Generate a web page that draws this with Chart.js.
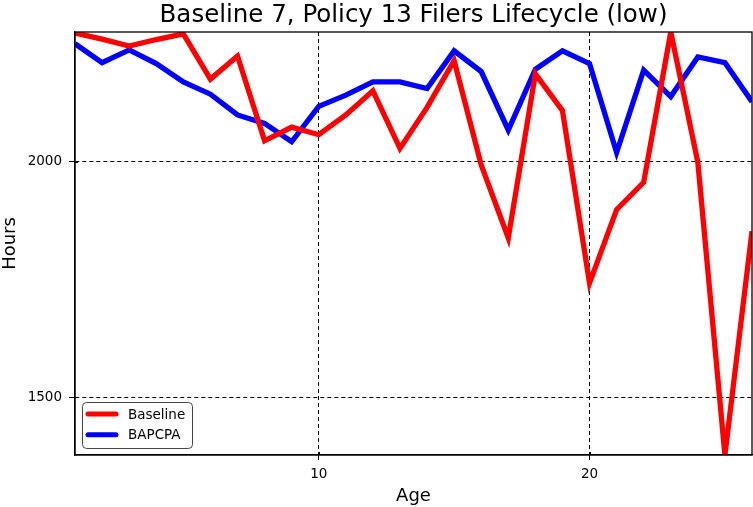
<!DOCTYPE html>
<html>
<head>
<meta charset="utf-8">
<script src="https://cdn.jsdelivr.net/npm/chart.js@4/dist/chart.umd.min.js"></script>
<style>
html,body{margin:0;padding:0;background:#fff;}
#wrap{width:753px;height:507px;}
</style>
</head>
<body>
<div id="wrap"><canvas id="c" width="753" height="507"></canvas></div>
<script>
const chartTitle = "Baseline 7, Policy 13 Filers Lifecycle (low)";
const ages = [1,2,3,4,5,6,7,8,9,10,11,12,13,14,15,16,17,18,19,20,21,22,23,24,25,26];
const baseline = [2273,2260,2245,2259,2271,2175,2224,2044,2073,2057,2099,2150,2028,2115,2214,1993,1838,2186,2108,1742,1898,1956,2275,1998,1377,1852];
const bapcpa = [2250,2210,2237,2208,2169,2143,2099,2081,2042,2117,2141,2169,2169,2155,2235,2191,2067,2196,2235,2208,2019,2194,2138,2222,2210,2127];
const xTicks = [10,20];
const yTicks = [1500,2000];
const xLabel = "Age";
const yLabel = "Hours";
const FONT = "'DejaVu Sans', sans-serif";

const framePlugin = {
  id: 'frame',
  afterDraw(chart) {
    const ctx = chart.ctx, a = chart.chartArea;
    ctx.save();
    ctx.strokeStyle = '#000';
    ctx.lineWidth = 1.3;
    ctx.strokeRect(a.left, a.top, a.right - a.left, a.bottom - a.top);
    // tick marks crossing the axis line
    ctx.lineWidth = 1;
    chart.scales.x.ticks.forEach(t => {
      const px = Math.round(chart.scales.x.getPixelForValue(t.value)) + 0.5;
      ctx.beginPath(); ctx.moveTo(px, a.bottom - 3); ctx.lineTo(px, a.bottom); ctx.stroke();
    });
    chart.scales.y.ticks.forEach(t => {
      const py = Math.round(chart.scales.y.getPixelForValue(t.value)) + 0.5;
      ctx.beginPath(); ctx.moveTo(a.left, py); ctx.lineTo(a.left + 3, py); ctx.stroke();
    });
    // title
    ctx.fillStyle = '#000';
    ctx.font = '24.5px ' + FONT;
    ctx.textAlign = 'center';
    ctx.textBaseline = 'alphabetic';
    ctx.fillText(chartTitle, (a.left + a.right) / 2, 22);
    // legend
    const lx = 82, ly = 402, lw = 110, lh = 46, r = 4;
    ctx.beginPath();
    ctx.roundRect(lx + 0.5, ly + 0.5, lw, lh, r);
    ctx.fillStyle = 'rgba(255,255,255,0.8)';
    ctx.fill();
    ctx.strokeStyle = '#444';
    ctx.lineWidth = 1;
    ctx.stroke();
    ctx.font = '13.5px ' + FONT;
    ctx.textAlign = 'left';
    ctx.textBaseline = 'middle';
    chart.data.datasets.forEach((ds, i) => {
      const yy = 414 + i * 20.7;
      ctx.beginPath();
      ctx.moveTo(88, yy);
      ctx.lineTo(116, yy);
      ctx.strokeStyle = ds.borderColor;
      ctx.lineWidth = 5;
      ctx.lineCap = 'round';
      ctx.stroke();
      ctx.fillStyle = '#000';
      ctx.fillText(ds.label, 128, yy + 1);
    });
    ctx.restore();
  }
};

new Chart(document.getElementById('c'), {
  type: 'line',
  data: {
    datasets: [
      { label: 'Baseline', data: ages.map((a, i) => ({x: a, y: baseline[i]})), borderColor: '#ff0000', borderWidth: 5.3, pointRadius: 0, tension: 0, clip: 0 },
      { label: 'BAPCPA', data: ages.map((a, i) => ({x: a, y: bapcpa[i]})), borderColor: '#0000ff', borderWidth: 5.3, pointRadius: 0, tension: 0, clip: 0 }
    ]
  },
  options: {
    responsive: false,
    animation: false,
    devicePixelRatio: 1,
    layout: { padding: { top: 32, right: 1, left: 0, bottom: 0 } },
    plugins: { legend: { display: false }, title: { display: false }, tooltip: { enabled: false } },
    scales: {
      x: {
        type: 'linear', min: 1, max: 26,
        afterBuildTicks: s => { s.ticks = xTicks.map(v => ({value: v})); },
        afterFit: s => { s.height = 52; },
        ticks: { color: '#000', font: { family: FONT, size: 13.5 }, padding: 6, maxRotation: 0, autoSkip: false, callback: v => String(v) },
        grid: { color: '#000', lineWidth: 1, tickLength: 5, drawTicks: true },
        border: { display: true, color: '#000', width: 1.3, dash: [4, 3] },
        title: { display: true, text: xLabel, color: '#000', font: { family: FONT, size: 18 }, padding: { top: 0, bottom: 0 } }
      },
      y: {
        type: 'linear', min: 1377, max: 2275,
        afterBuildTicks: s => { s.ticks = yTicks.map(v => ({value: v})); },
        afterFit: s => { s.width = 75; },
        ticks: { color: '#000', font: { family: FONT, size: 13.5 }, padding: 7, autoSkip: false, callback: v => String(v) },
        grid: { color: '#000', lineWidth: 1, tickLength: 6, drawTicks: true },
        border: { display: true, color: '#000', width: 1.3, dash: [4, 3] },
        title: { display: true, text: yLabel, color: '#000', font: { family: FONT, size: 18, lineHeight: 1.1 }, padding: { top: 0, bottom: 0 } }
      }
    }
  },
  plugins: [framePlugin]
});
</script>
</body>
</html>
